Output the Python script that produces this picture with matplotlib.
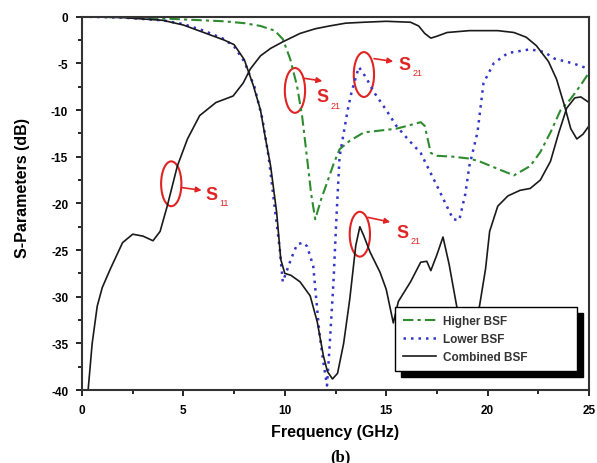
import numpy as np
import matplotlib
matplotlib.use("Agg")
import matplotlib.pyplot as plt
from matplotlib.patches import Ellipse, Rectangle
from matplotlib.transforms import IdentityTransform

plt.rcParams['font.family'] = ['Liberation Sans', 'DejaVu Sans']
plt.rcParams['font.weight'] = 'bold'
plt.rcParams['axes.unicode_minus'] = False

# Combined BSF, S11 (black)
f_s11 = [0.3, 0.5, 0.75, 1.0, 1.4, 2.0, 2.5, 3.0, 3.5, 3.85, 4.2, 4.7, 5.2, 5.8,
         6.6, 7.45, 7.95, 8.3, 8.8, 9.3, 9.9, 10.75, 11.5, 12.2, 13.0, 13.9,
         15.0, 16.2, 16.6, 16.9, 17.2, 17.5, 18.0, 19.1, 20.5, 21.3, 21.9, 22.4,
         23.0, 23.4, 23.8, 24.1, 24.4, 24.7, 25.0]
s11_comb = [-40, -35, -31, -29, -27, -24.2, -23.3, -23.5, -24.0, -23, -20.3, -16,
            -13.1, -10.6, -9.2, -8.5, -7.1, -5.6, -4.2, -3.4, -2.7, -1.8, -1.3,
            -1.0, -0.7, -0.6, -0.5, -0.6, -1.0, -1.8, -2.3, -2.1, -1.7, -1.5,
            -1.5, -1.7, -2.2, -3.1, -4.8, -6.7, -9.6, -12.0, -13.1, -12.6, -11.7]

# Combined BSF, S21 (black)
f_s21 = [0, 2, 4, 5, 6, 7, 7.5, 8.0, 8.45, 8.8, 9.0, 9.3, 9.6, 9.8, 10.0, 10.3,
         10.75, 11.25, 11.6, 11.9, 12.1, 12.35, 12.6, 12.9, 13.2, 13.5, 13.7,
         13.9, 14.2, 14.7, 15.0, 15.35, 15.6, 16.2, 16.7, 17.0, 17.2, 17.5, 17.8,
         18.1, 18.5, 18.9, 19.3, 19.6, 19.9, 20.1, 20.5, 21.0, 21.6, 22.1, 22.6,
         23.1, 23.5, 23.9, 24.3, 24.6, 25.0]
s21_comb = [0, -0.1, -0.4, -0.9, -1.7, -2.5, -3.0, -4.6, -7.4, -10, -12.5, -16,
            -21, -26, -27.5, -27.7, -28.4, -29.9, -32.7, -36.3, -38.0, -38.8,
            -38.2, -35, -30.3, -24.5, -22.5, -23.5, -25.2, -27.4, -29.2, -32.8,
            -30.5, -28.4, -26.3, -26.2, -27.2, -25.5, -23.6, -26.5, -31.3, -34,
            -34, -31, -27, -23, -20.3, -19.2, -18.6, -18.4, -17.5, -15.5, -12.5,
            -9.8, -8.7, -8.6, -9.2]

# Lower BSF (blue dotted)
f_low = [0, 2, 4, 5, 6, 7, 7.5, 8.0, 8.5, 8.9, 9.2, 9.45, 9.75, 9.9, 10.05, 10.3,
         10.6, 10.9, 11.1, 11.4, 11.7, 11.9, 12.08, 12.2, 12.4, 12.55, 12.7,
         12.9, 13.1, 13.3, 13.65, 14.0, 14.4, 15.0, 15.5, 16.1, 16.7, 17.5, 18.3,
         18.6, 18.9, 19.1, 19.5, 19.8, 20.3, 21.0, 22.1, 22.8, 23.3, 24.2, 25.0]
s21_low = [0, -0.1, -0.4, -0.8, -1.5, -2.4, -3.2, -4.8, -7.5, -11, -15, -19.5,
           -24.9, -28.4, -27.5, -26, -24.4, -24.2, -24.6, -26.7, -33.8, -37,
           -39.5, -35.6, -28.4, -21.3, -15, -12.5, -10, -8, -5.4, -6.5, -8.1,
           -10, -11.7, -13.2, -14.6, -18.1, -21.7, -21.8, -19, -16, -12.4, -7.1,
           -5.0, -3.9, -3.5, -3.8, -4.5, -5.0, -5.6]

# Higher BSF (green dash-dot)
f_high = [0, 3, 5, 7, 8.0, 8.8, 9.5, 9.9, 10.26, 10.6, 10.85, 11.1, 11.3, 11.5,
          11.8, 12.08, 12.4, 12.7, 13.2, 13.9, 14.7, 15.5, 16.2, 16.7, 16.9, 17.2,
          17.5, 18.3, 19.1, 19.6, 20.5, 21.3, 22.1, 22.6, 23.1, 23.6, 24.1, 24.6,
          25.0]
s21_high = [0, -0.1, -0.3, -0.5, -0.7, -1.0, -1.5, -2.4, -4.5, -7.4, -10.6, -15.2,
            -19, -21.7, -19.5, -17.8, -15.8, -14.2, -13.3, -12.4, -12.2, -12.0,
            -11.6, -11.3, -11.7, -14.6, -14.9, -15.0, -15.2, -15.5, -16.3, -17.0,
            -16.0, -14.5, -12.4, -10.0, -8.8, -7.3, -6.0]

# red markers: (ellipse centre, arrow start, arrow end, label position, subscript)
marks = [
    ((4.4, -17.9), (4.9, -18.3), (5.9, -18.6), (6.1, -19.0), '11'),
    ((10.5, -7.9), (10.95, -6.6), (11.85, -6.9), (11.55, -8.6), '21'),
    ((13.9, -6.2), (14.4, -4.5), (15.35, -4.8), (15.6, -5.1), '21'),
    ((13.7, -23.3), (14.1, -21.5), (15.2, -22.0), (15.5, -23.1), '21'),
]

fig, ax = plt.subplots(figsize=(5.97, 4.64), dpi=100)
fig.subplots_adjust(left=0.1374, right=0.9866, bottom=0.157, top=0.962)

ax.plot(f_high, s21_high, color='#2e8b2e', lw=1.5, ls=(0, (5, 2, 1.5, 2)),
        label='Higher BSF')
ax.plot(f_low, s21_low, color='#3535c8', lw=1.8, ls=(0, (1, 2)),
        label='Lower BSF')
ax.plot(f_s21, s21_comb, color='#1a1a1a', lw=1.2, label='Combined BSF')
ax.plot(f_s11, s11_comb, color='#1a1a1a', lw=1.2)

red = '#e02424'
for c, a0, a1, tp, sub in marks:
    ax.add_patch(Ellipse(c, 1.0, 4.8, fill=False, ec=red, lw=1.5))
    ax.annotate('', xy=a1, xytext=a0,
                arrowprops=dict(arrowstyle='-|>', color=red, lw=1.2,
                                mutation_scale=8, shrinkA=0, shrinkB=0))
    ax.text(tp[0], tp[1], 'S', color=red, fontsize=13, ha='left', va='center')
    ax.annotate(sub, xy=tp, xytext=(10, -6), textcoords='offset points',
                color=red, fontsize=6.5, fontweight='normal',
                ha='left', va='center')

ax.set_xlim(0, 25)
ax.set_ylim(-40, 0)
ax.set_xticks(np.arange(0, 26, 5))
ax.set_xticks(np.arange(0, 25.1, 2.5), minor=True)
ax.set_yticks(np.arange(-40, 1, 5))
ax.set_yticks(np.arange(-40, 0.1, 2.5), minor=True)
ax.tick_params(which='both', direction='out', top=False, right=False,
               labelsize=8.5, pad=6, width=1.2)
ax.tick_params(which='major', length=4)
ax.tick_params(which='minor', length=3)
for sp in ax.spines.values():
    sp.set_linewidth(1.5)
    sp.set_color('#333333')

ax.set_xlabel('Frequency (GHz)', fontsize=11.5, fontweight='bold', va='top')
ax.xaxis.set_label_coords(0.5, -0.091)
ax.set_ylabel('S-Parameters (dB)', fontsize=11.5, fontweight='bold')
ax.yaxis.set_label_coords(-0.103, 0.543)
fig.text(340 / 597, 1 - 449 / 464, '(b)', ha='center', va='top', fontsize=12,
         family='Liberation Serif', fontweight='bold')

leg = ax.legend(loc='center', bbox_to_anchor=(0.617, 0.051, 0.359, 0.171),
                mode='expand', borderaxespad=0, fancybox=False, framealpha=1,
                edgecolor='black', fontsize=8.5, borderpad=0.7,
                labelspacing=0.5, handlelength=2.8, handletextpad=0.6)
leg.get_frame().set_linewidth(1.0)
for t in leg.get_texts():
    t.set_color('#333333')
leg.set_zorder(6)

# solid black drop shadow behind the legend box
fig.canvas.draw()
bb = leg.get_window_extent()
ax.add_patch(Rectangle((bb.x0 + 6, bb.y0 - 6), bb.width, bb.height,
                       transform=IdentityTransform(), color='black',
                       clip_on=False, zorder=5.5))

fig.savefig('out.png', dpi=100)
